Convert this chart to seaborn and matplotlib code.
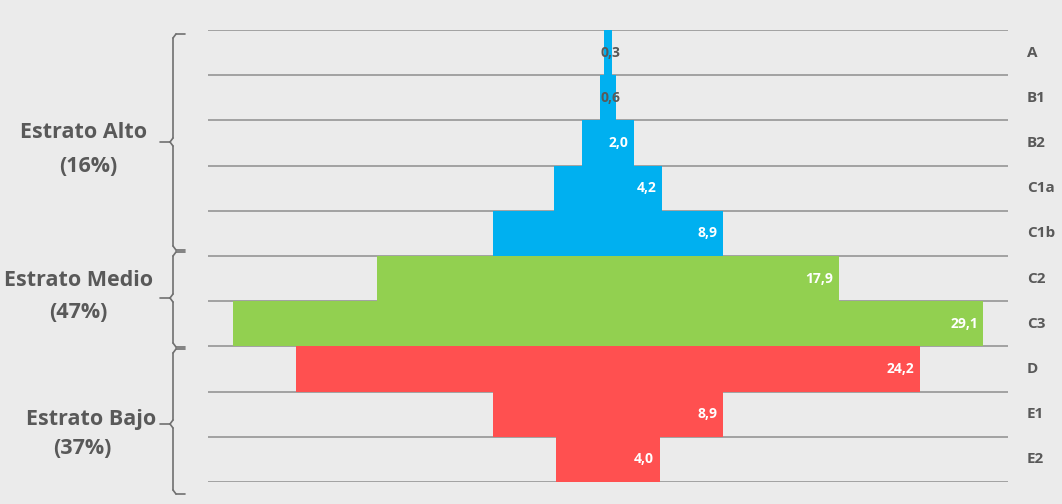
import matplotlib
matplotlib.use("Agg")
import matplotlib.pyplot as plt
from matplotlib.lines import Line2D
import seaborn as sns
import pandas as pd
import numpy as np

# Socio-economic strata: share of population by level
levels = ["A", "B1", "B2", "C1a", "C1b", "C2", "C3", "D", "E1", "E2"]
shares = [0.3, 0.6, 2.0, 4.2, 8.9, 17.9, 29.1, 24.2, 8.9, 4.0]
strata = ["Alto", "Alto", "Alto", "Alto", "Alto", "Medio", "Medio", "Bajo", "Bajo", "Bajo"]
group_names = ["Estrato Alto", "Estrato Medio", "Estrato Bajo"]
group_pcts = ["(16%)", "(47%)", "(37%)"]

palette = {"Alto": "#00b0f0", "Medio": "#92d050", "Bajo": "#ff5050"}
BG = "#ebebeb"
TXT = "#595959"

sns.set_theme(style="white")
plt.rcParams["font.family"] = ["Open Sans", "DejaVu Sans"]

W, H = 1062, 504
fig = plt.figure(figsize=(W / 100, H / 100), dpi=100, facecolor=BG)

# axes frame in pixel terms
x0, x1, ytop, ybot = 208, 1008, 30, 482
ax = fig.add_axes([x0 / W, (H - ybot) / H, (x1 - x0) / W, (ybot - ytop) / H])
ax.set_facecolor(BG)

df = pd.DataFrame({"level": levels, "share": shares, "stratum": strata})
sns.barplot(data=df, x="share", y="level", hue="stratum", palette=palette,
            dodge=False, width=1.0, orient="h", legend=False, ax=ax,
            saturation=1, zorder=3)

# centre each bar on zero so the rows form a pyramid
for p in ax.patches:
    w = p.get_width()
    p.set_x(-w / 2)
    p.set_linewidth(0)

half = 15.5
ax.set_xlim(-half, half)
ax.set_ylim(len(levels) - 0.5, -0.5)

for yy in np.arange(-0.5, len(levels), 1.0):
    ax.axhline(yy, color="#9c9c9c", lw=1.3, zorder=1)

for i, v in enumerate(shares):
    xr = max(v / 2, 0.7)
    col = "white" if v >= 2 else TXT
    ax.annotate(f"{v:.1f}".replace(".", ","), (xr, i), xytext=(-4, 0),
                textcoords="offset points", ha="right", va="center",
                fontsize=10, fontweight="bold", color=col, zorder=4)

ax.set_xticks([])
ax.set_yticks([])
ax.set_xlabel("")
ax.set_ylabel("")
for s in ax.spines.values():
    s.set_visible(False)

# level names on the right
for i, lab in enumerate(levels):
    ax.annotate(lab, (1, i), xycoords=("axes fraction", "data"),
                xytext=(19, 0), textcoords="offset pixels",
                ha="left", va="center", fontsize=11, fontweight="bold",
                color=TXT)


def fx(px):
    return px / W


def fy(py):
    return (H - py) / H


def brace(top, tip, bottom, x=173, xr=185, xt=160):
    segs = [
        ([xr, x + 3], [top, top]),
        ([x + 3, x], [top, top + 4]),
        ([x, x], [top + 4, tip - 4]),
        ([x, x - 3], [tip - 4, tip]),
        ([x - 3, xt], [tip, tip]),
        ([x - 3, x], [tip, tip + 4]),
        ([x, x], [tip + 4, bottom - 4]),
        ([x, x + 3], [bottom - 4, bottom]),
        ([x + 3, xr], [bottom, bottom]),
    ]
    for xs, ys in segs:
        fig.add_artist(Line2D([fx(v) for v in xs], [fy(v) for v in ys],
                              color="#707070", lw=1.2))


brace(34, 142, 250)
brace(252, 298, 347)
brace(349, 424, 494)

name_pos = [(84, 133), (79, 280), (91, 420)]
pct_pos = [(88, 166), (78, 312), (82, 449)]
for name, pct, (nx, ny), (px, py) in zip(group_names, group_pcts, name_pos, pct_pos):
    fig.text(fx(nx), fy(ny), name, ha="center", va="center", fontsize=15.5,
             fontweight="bold", color=TXT)
    fig.text(fx(px), fy(py), pct, ha="center", va="center", fontsize=15.5,
             fontweight="bold", color=TXT)

fig.savefig("out.png", dpi=100, facecolor=BG)
